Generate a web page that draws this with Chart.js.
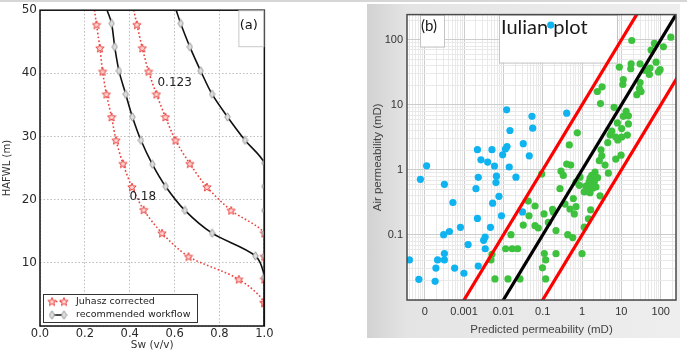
<!DOCTYPE html>
<html>
<head>
<meta charset="utf-8">
<script src="https://cdn.jsdelivr.net/npm/chart.js@4.4.1/dist/chart.umd.min.js"></script>
<style>
  html, body { margin: 0; padding: 0; background: #fff; }
  body { width: 687px; height: 352px; position: relative; overflow: hidden; }
  #topLine { position: absolute; left: 0; top: 0; width: 687px; height: 2px; background: #d6d6d6; }
  #wrapA { position: absolute; left: 0; top: 0; width: 275px; height: 352px; }
  #wrapB { position: absolute; left: 367px; top: 4px; width: 313px; height: 334px;
           background: linear-gradient(to right, #d2d2d2 0px, #e4e4e4 40px, #eeeeee 100%); }
</style>
</head>
<body>
<div id="topLine"></div>
<div id="wrapA"><canvas id="chartA" width="275" height="352"></canvas></div>
<div id="wrapB"><canvas id="chartB" width="313" height="334"></canvas></div>
<script>
// ---------- panel (a): Sw vs HAFWL ----------
const seriesNames = ['Juhasz corrected', 'recommended workflow'];

const juhasz018Sw = [0.243, 0.252, 0.267, 0.279, 0.296, 0.319, 0.339, 0.370, 0.410, 0.462, 0.544, 0.662, 0.886, 1.0, 1.0];
const juhasz018H  = [50, 47.7, 44.0, 40.3, 36.7, 33.1, 29.4, 25.7, 22.0, 18.4, 14.7, 11.0, 7.4, 3.7, 0];

const juhasz123Sw = [0.418, 0.432, 0.456, 0.484, 0.519, 0.559, 0.604, 0.668, 0.744, 0.852, 1.0, 1.0, 1.0, 1.0, 1.0];
const juhasz123H  = [50, 47.7, 44.0, 40.3, 36.7, 33.1, 29.4, 25.7, 22.0, 18.3, 14.7, 11.0, 7.4, 3.7, 0];

const workflow018Sw = [0.299, 0.319, 0.333, 0.352, 0.382, 0.412, 0.450, 0.501, 0.560, 0.646, 0.767, 0.960, 1.0, 1.0];
const workflow018H  = [50, 47.9, 44.2, 40.4, 36.7, 33.1, 29.4, 25.6, 22.1, 18.3, 14.7, 11.1, 7.7, 0];

const workflow123Sw = [0.607, 0.627, 0.668, 0.716, 0.767, 0.836, 0.914, 1.0, 1.0, 1.0, 1.0, 1.0, 1.0, 1.0];
const workflow123H  = [50, 47.9, 44.2, 40.4, 36.7, 33.1, 29.4, 25.8, 22.1, 18.3, 14.7, 11.1, 7.7, 0];

const curveLabels = ['0.123', '0.18'];
const curveLabelSw = [0.6, 0.458];
const curveLabelH = [38.5, 20.5];

// ---------- panel (b): Iulian plot ----------
const blueX = [0.16, 0.0121, 0.0534, 0.408, 0.0557, 0.0147, 0.0321, 0.00219, 0.00513, 0.0124,
  0.0113, 0.0096, 0.0456, 0.00269, 0.00399, 0.00594, 0.0141, 0.000112, 0.0000778, 0.000317,
  0.0023, 0.00667, 0.00648, 0.0209, 0.00201, 0.00773, 0.000522, 0.00534, 0.0306, 0.00219,
  0.00895, 0.00081, 0.0047, 0.000425, 0.000303, 0.00344, 0.00315, 0.00127, 0.00346, 0.000317,
  0.000317, 0.000213, 0.0000408, 0.000193, 0.000577, 0.0023, 0.000994, 0.0000711, 0.000184];
const blueY = [169, 8.4, 6.67, 7.48, 4.39, 4.04, 2.54, 2.05, 2.05, 2.29,
  2.10, 1.71, 1.65, 1.43, 1.32, 1.15, 1.11, 1.16, 0.718, 0.601,
  0.770, 0.803, 0.640, 0.775, 0.515, 0.393, 0.316, 0.308, 0.226, 0.180,
  0.197, 0.131, 0.131, 0.113, 0.101, 0.0929, 0.0826, 0.0711, 0.0614, 0.0519,
  0.0414, 0.0414, 0.0414, 0.031, 0.031, 0.0333, 0.0258, 0.0208, 0.0194];

const greenX = [18.4, 181, 69.2, 117, 57, 76.4, 8.9, 17.7, 17.3, 29.9,
  53.7, 40.1, 51.6, 87.4, 96.6, 11.2, 10.9, 29.9, 28.7, 3.23,
  2.45, 31.7, 24.7, 2.95, 6.52, 13.2, 11.2, 15.1, 7.91, 15.1,
  10.2, 5.70, 5.16, 14.2, 7.20, 10.2, 8.10, 4.51, 0.759, 0.475,
  3.04, 3.17, 9.83, 7.20, 2.75, 3.85, 0.408, 0.516, 2.14, 4.67,
  1.77, 1.60, 2.06, 1.77, 0.292, 0.334, 0.889, 0.704, 0.854, 2.27,
  1.45, 1.14, 1.60, 0.275, 0.601, 2.87, 0.0943, 2.48, 1.51, 1.91,
  1.26, 0.0430, 0.0637, 0.0448, 0.0321, 0.0637, 0.0773, 0.0156, 0.0114, 0.0168,
  0.0231, 0.00513, 0.00483, 0.00611, 0.0131, 0.0264, 0.0989, 0.110, 0.218, 0.119,
  0.119, 0.108, 0.178, 0.186, 0.139, 0.218, 0.369, 0.495, 0.704, 0.637,
  1.66, 1.45, 1.14, 0.433, 0.580, 1.0];
const greenY = [97.9, 110, 88.2, 78.3, 69.8, 45.5, 38.2, 42.8, 36.0, 42.8,
  36.9, 33.9, 29.5, 32.1, 34.8, 24.5, 20.6, 22.1, 17.9, 19.0,
  16.1, 16.1, 14.4, 10.5, 9.2, 7.94, 6.67, 6.81, 5.28, 5.10,
  4.33, 3.95, 3.44, 3.44, 3.21, 3.21, 2.89, 2.63, 3.73, 2.43,
  2.04, 1.65, 1.69, 1.47, 1.39, 1.19, 1.23, 1.19, 0.923, 0.891,
  0.823, 0.748, 0.667, 0.593, 0.956, 0.823, 0.775, 0.651, 0.580, 0.547,
  0.505, 0.459, 0.448, 0.515, 0.364, 0.400, 0.870, 0.762, 0.651, 0.528,
  0.566, 0.332, 0.279, 0.197, 0.142, 0.139, 0.128, 0.101, 0.0614, 0.0614,
  0.0614, 0.0505, 0.0414, 0.0211, 0.0211, 0.0211, 0.0313, 0.0519, 0.0515, 0.0414,
  0.0211, 0.211, 0.248, 0.225, 0.156, 0.117, 0.299, 0.251, 0.272, 0.211,
  0.243, 0.177, 0.132, 0.101, 0.0913, 0.0515];

// reference lines: air = 10 x predicted, 1:1, predicted / 10
const refX = [0.00001, 1000];
const refUpperY = [0.0001, 10000];
const refMidY = [0.00001, 1000];
const refLowerY = [0.000001, 100];

const xTickValues = [0.0001, 0.001, 0.01, 0.1, 1, 10, 100];
const xTickLabels = ['0', '0.001', '0.01', '0.1', '1', '10', '100'];
const yTickValues = [0.1, 1, 10, 100];
const yTickLabels = ['0.1', '1', '10', '100'];

const toPoints = (xs, ys) => xs.map((v, i) => ({x: v, y: ys[i]}));

// marker images
function starMarker() {
  const c = document.createElement('canvas');
  c.width = 10; c.height = 10;
  const g = c.getContext('2d');
  g.beginPath();
  for (let i = 0; i < 10; i++) {
    const r = i % 2 === 0 ? 4.4 : 1.9;
    const a = -Math.PI / 2 + i * Math.PI / 5;
    const px = 5 + r * Math.cos(a), py = 5.4 + r * Math.sin(a);
    if (i === 0) g.moveTo(px, py); else g.lineTo(px, py);
  }
  g.closePath();
  g.fillStyle = 'rgba(255,210,210,0.9)';
  g.fill();
  g.strokeStyle = '#e8453f';
  g.lineWidth = 1;
  g.stroke();
  return c;
}
function diamondMarker() {
  const c = document.createElement('canvas');
  c.width = 7; c.height = 10;
  const g = c.getContext('2d');
  g.beginPath();
  g.moveTo(3.5, 0.8); g.lineTo(6.2, 5); g.lineTo(3.5, 9.2); g.lineTo(0.8, 5);
  g.closePath();
  g.fillStyle = '#dedede';
  g.fill();
  g.strokeStyle = '#9a9a9a';
  g.lineWidth = 1;
  g.stroke();
  return c;
}
const star = starMarker();
const diamond = diamondMarker();

const markerRadius = (c) => (c.raw && c.raw.y > 0 && c.raw.y < 50) ? 4 : 0;

const redCurve = (xs, ys) => ({
  label: seriesNames[0],
  data: toPoints(xs, ys),
  showLine: true,
  tension: 0.3,
  borderColor: '#e8453f',
  borderWidth: 1.6,
  borderDash: [1.6, 2.2],
  pointStyle: star,
  pointRadius: markerRadius,
});
const blackCurve = (xs, ys) => ({
  label: seriesNames[1],
  data: toPoints(xs, ys),
  showLine: true,
  tension: 0.3,
  borderColor: '#111',
  borderWidth: 1.6,
  pointStyle: diamond,
  pointRadius: markerRadius,
});

const panelA = {
  id: 'panelA',
  afterDraw(chart) {
    const {ctx, chartArea: ca, scales: {x, y}} = chart;
    ctx.save();
    ctx.font = '12px "DejaVu Sans"';
    ctx.fillStyle = '#222';
    ctx.textAlign = 'center';
    ctx.textBaseline = 'middle';
    curveLabels.forEach((t, i) => {
      ctx.fillText(t, x.getPixelForValue(curveLabelSw[i]), y.getPixelForValue(curveLabelH[i]));
    });

    ctx.strokeStyle = '#111';
    ctx.lineWidth = 1.5;
    ctx.strokeRect(ca.left, ca.top, ca.right - ca.left, ca.bottom - ca.top);

    // (a) box
    ctx.fillStyle = '#fff';
    ctx.fillRect(ca.right - 25, ca.top + 1, 24, 35);
    ctx.strokeStyle = '#c8c8c8';
    ctx.lineWidth = 1;
    ctx.strokeRect(ca.right - 25.5, ca.top + 0.5, 25, 36);
    ctx.fillStyle = '#111';
    ctx.font = '13px "DejaVu Sans"';
    ctx.fillText('(a)', ca.right - 15.5, ca.top + 15);

    // legend
    const lx = ca.left + 3, ly = ca.bottom - 32;
    ctx.fillStyle = '#fff';
    ctx.fillRect(lx, ly, 154, 28);
    ctx.strokeStyle = '#333';
    ctx.strokeRect(lx + 0.5, ly + 0.5, 154, 28);
    const rows = [ly + 7.5, ly + 21];
    ctx.lineWidth = 1.5;
    ctx.strokeStyle = '#e8453f';
    ctx.setLineDash([1.6, 2.2]);
    ctx.beginPath(); ctx.moveTo(lx + 9, rows[0]); ctx.lineTo(lx + 21, rows[0]); ctx.stroke();
    ctx.setLineDash([]);
    ctx.strokeStyle = '#111';
    ctx.beginPath(); ctx.moveTo(lx + 9, rows[1]); ctx.lineTo(lx + 21, rows[1]); ctx.stroke();
    [lx + 9, lx + 21].forEach(px => {
      ctx.drawImage(star, px - star.width / 2, rows[0] - star.height / 2);
      ctx.drawImage(diamond, px - diamond.width / 2, rows[1] - diamond.height / 2);
    });
    ctx.fillStyle = '#222';
    ctx.font = '9.5px "DejaVu Sans"';
    ctx.textAlign = 'left';
    ctx.fillText(seriesNames[0], lx + 33, rows[0]);
    ctx.fillText(seriesNames[1], lx + 33, rows[1]);
    ctx.restore();
  }
};

new Chart(document.getElementById('chartA'), {
  type: 'scatter',
  data: {
    datasets: [
      blackCurve(workflow018Sw, workflow018H),
      blackCurve(workflow123Sw, workflow123H),
      redCurve(juhasz018Sw, juhasz018H),
      redCurve(juhasz123Sw, juhasz123H),
    ]
  },
  options: {
    responsive: false,
    animation: false,
    layout: {padding: {top: 7, right: 10}},
    plugins: {legend: {display: false}, tooltip: {enabled: false}},
    scales: {
      x: {
        type: 'linear', min: 0, max: 1,
        afterFit: (s) => { s.height = 26; },
        grid: {color: '#bdbdbd', lineWidth: 1, drawTicks: false},
        border: {display: false, dash: [1.5, 2]},
        ticks: {stepSize: 0.2, padding: 1.5, color: '#2a2a2a', font: {family: 'DejaVu Sans', size: 11.5},
                callback: (v) => v.toFixed(1)},
        title: {display: true, text: 'Sw (v/v)', color: '#333', padding: {top: 0, bottom: 0},
                font: {family: 'DejaVu Sans', size: 10.5}}
      },
      y: {
        type: 'linear', min: 0, max: 50,
        afterFit: (s) => { s.width = 40; },
        grid: {color: '#bdbdbd', lineWidth: 1, drawTicks: false},
        border: {display: false, dash: [1.5, 2]},
        ticks: {stepSize: 10, padding: 3, color: '#2a2a2a', font: {family: 'DejaVu Sans', size: 12},
                callback: (v) => v === 0 ? '' : v},
        title: {display: true, text: 'HAFWL (m)', color: '#333', padding: {top: 1.5, bottom: 0},
                font: {family: 'DejaVu Sans', size: 10}}
      }
    }
  },
  plugins: [panelA]
});

// ---------- panel (b) ----------
function logTicks(axis) {
  const ticks = [];
  for (let e = -6; e <= 3; e++) {
    for (let m = 1; m <= 9; m++) {
      const v = parseFloat((m * Math.pow(10, e)).toPrecision(6));
      if (v >= axis.min && v <= axis.max) ticks.push({value: v, major: m === 1});
    }
  }
  axis.ticks = ticks;
}
const isDecade = (v) => Math.abs(Math.log10(v) - Math.round(Math.log10(v))) < 1e-6;
const labelFor = (values, labels) => (v) => {
  const i = values.findIndex(t => Math.abs(Math.log10(t) - Math.log10(v)) < 1e-6);
  return i >= 0 ? labels[i] : '';
};
const gridColor = (c) => (c.tick && isDecade(c.tick.value)) ? '#cdcdcd' : '#e9e9e9';

const panelB = {
  id: 'panelB',
  beforeDraw(chart) {
    const {ctx, chartArea: ca} = chart;
    ctx.save();
    ctx.fillStyle = '#fff';
    ctx.fillRect(ca.left, ca.top, ca.right - ca.left, ca.bottom - ca.top);
    ctx.restore();
  },
  beforeDatasetsDraw(chart) {
    const {ctx, chartArea: ca} = chart;
    ctx.save();
    ctx.fillStyle = '#fff';
    ctx.strokeStyle = '#c4c4c4';
    ctx.lineWidth = 1;
    ctx.fillRect(ca.left + 13, ca.top, 24, 32);
    ctx.strokeRect(ca.left + 13.5, ca.top + 0.5, 24, 32);
    ctx.fillRect(ca.left + 92, ca.top, 118, 48);
    ctx.strokeRect(ca.left + 92.5, ca.top + 0.5, 118, 48);
    ctx.fillStyle = '#1a1a1a';
    ctx.textBaseline = 'middle';
    ctx.textAlign = 'left';
    ctx.font = '15px Lato';
    ctx.fillText('(b)', ca.left + 14, ca.top + 12);
    ctx.font = '20px Lato';
    ctx.fillText('Iulian plot', ca.left + 94, ca.top + 13);
    ctx.restore();
  },
  afterDraw(chart) {
    const {ctx, chartArea: ca} = chart;
    ctx.save();
    ctx.strokeStyle = '#4a4a4a';
    ctx.lineWidth = 1.5;
    ctx.strokeRect(ca.left, ca.top, ca.right - ca.left, ca.bottom - ca.top);
    ctx.restore();
  }
};

const refLine = (ys, color) => ({
  data: toPoints(refX, ys),
  showLine: true,
  borderColor: color,
  borderWidth: 3.2,
  pointRadius: 0,
});

new Chart(document.getElementById('chartB'), {
  type: 'scatter',
  data: {
    datasets: [
      refLine(refUpperY, '#ff0000'),
      refLine(refMidY, '#000000'),
      refLine(refLowerY, '#ff0000'),
      {data: toPoints(blueX, blueY), pointRadius: 3.6, backgroundColor: '#0fb3f0', borderWidth: 0},
      {data: toPoints(greenX, greenY), pointRadius: 3.6, backgroundColor: '#3ec23e', borderWidth: 0},
    ]
  },
  options: {
    responsive: false,
    animation: false,
    layout: {padding: {top: 6, right: 4}},
    plugins: {legend: {display: false}, tooltip: {enabled: false}},
    scales: {
      x: {
        type: 'logarithmic', min: 0.0000355, max: 245,
        afterFit: (s) => { s.height = 38; },
        afterBuildTicks: logTicks,
        grid: {color: gridColor, drawTicks: false},
        border: {display: false},
        ticks: {autoSkip: false, maxRotation: 0, padding: 5, color: '#333',
                font: {family: 'Liberation Sans', size: 11},
                callback: labelFor(xTickValues, xTickLabels)},
        title: {display: true, text: 'Predicted permeability (mD)', color: '#444',
                padding: {top: 0, bottom: 1}, font: {family: 'Liberation Sans', size: 11.5}}
      },
      y: {
        type: 'logarithmic', min: 0.01, max: 245,
        afterFit: (s) => { s.width = 40; },
        afterBuildTicks: logTicks,
        grid: {color: gridColor, drawTicks: false},
        border: {display: false},
        ticks: {autoSkip: false, padding: 4, color: '#333',
                font: {family: 'Liberation Sans', size: 11},
                callback: labelFor(yTickValues, yTickLabels)},
        title: {display: true, text: 'Air permeability (mD)', color: '#444',
                padding: {top: 3.5, bottom: 0}, font: {family: 'Liberation Sans', size: 11.5}}
      }
    }
  },
  plugins: [panelB]
});
</script>
</body>
</html>
